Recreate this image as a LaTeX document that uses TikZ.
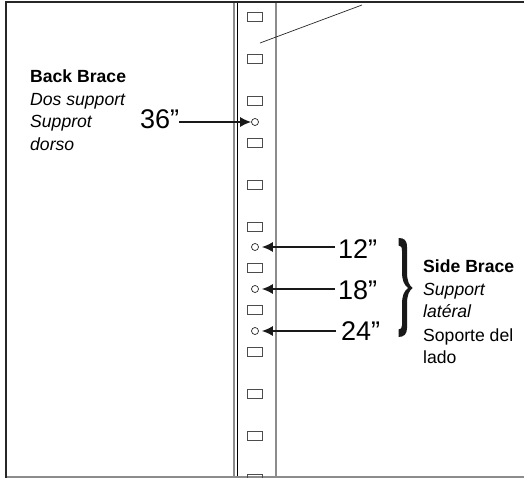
\documentclass[tikz,border=0pt]{standalone}
\usepackage{fontspec}
\setmainfont{Liberation Sans}
\usetikzlibrary{arrows.meta}
\definecolor{railgray}{gray}{0.55}
\tikzset{
  slot/.style={rectangle, draw=black!70, line width=1.1pt, minimum width=14.5pt, minimum height=8.5pt, inner sep=0pt},
  hole/.style={circle, draw=black!85, line width=0.7pt, minimum size=7pt, inner sep=0pt},
  size/.style={anchor=base west, inner sep=0pt, font=\fontsize{27}{27}\selectfont},
  head/.style={anchor=base west, inner sep=0pt, font=\fontsize{17.6}{17.6}\selectfont\bfseries},
  note/.style={anchor=base west, inner sep=0pt, font=\fontsize{17.6}{17.6}\selectfont\itshape},
  plain/.style={anchor=base west, inner sep=0pt, font=\fontsize{17.6}{17.6}\selectfont},
  pointer/.style={draw=black!90, line width=1.4pt, -{Latex[length=11pt,width=10pt]}},
}
\begin{document}
\begin{tikzpicture}[x=1pt,y=-1pt]
\useasboundingbox (0,0) rectangle (524,478);
\begin{scope}
\clip (0,0) rectangle (524,478);
% rails
\draw[railgray, line width=1.4pt] (234,3) -- (234,478);
\draw[black, line width=1pt] (237.5,3) -- (237.5,478);
\draw[railgray, line width=1.4pt] (276,3) -- (276,478);
% frame
\draw[railgray, line width=1.2pt] (6,477) -- (524,477);
\draw[black!85, line width=2.5pt] (6,478) -- (6,2) -- (524,2);
% slots
\node[slot] (slot0) at (255,17){};
\node[slot] (slot1) at (255,59){};
\node[slot] (slot2) at (255,101){};
\node[slot] (slot3) at (255,143){};
\node[slot] (slot4) at (255,185){};
\node[slot] (slot5) at (255,227){};
\node[slot] (slot6) at (255,268){};
\node[slot] (slot7) at (255,310){};
\node[slot] (slot8) at (255,352){};
\node[slot] (slot9) at (255,394){};
\node[slot] (slot10) at (255,436){};
\node[slot] (slot11) at (255,478.5){};
\end{scope}
% holes
\node[hole] (hole36) at (255,122){};
\node[hole] (hole12) at (255,247){};
\node[hole] (hole18) at (255,289){};
\node[hole] (hole24) at (255,331){};
% sizes
\node[size] (size36) at (140,129){36”};
\node[size] (size12) at (338,258){12”};
\node[size] (size18) at (338,299){18”};
\node[size] (size24) at (341,340){24”};
\draw[pointer] (size36.east |- hole36) -- (hole36);
\draw[pointer, shorten >=3pt] ([xshift=-3pt]size12.west |- hole12) -- (hole12);
\draw[pointer, shorten >=3pt] ([xshift=-3pt]size18.west |- hole18) -- (hole18);
\draw[pointer, shorten >=3pt] ([xshift=-5pt]size24.west |- hole24) -- (hole24);
% leader at the top
\coordinate (leadtop) at (362,5);
\coordinate (leadend) at (260,43);
\draw[black!85, line width=0.7pt] (leadtop) -- (leadend);
% back brace text
\node[head] (back0) at (30,83){Back Brace};
\node[note] (back1) at (30,106){Dos support};
\node[note] (back2) at (30,128){Supprot};
\node[note] (back3) at (30,151){dorso};
% side brace
\fill[black!90] (398.5,238) .. controls (404,238) and (407,240) .. (407,247) -- (407,272)
  .. controls (407,281) and (409,285) .. (412.5,288) .. controls (409,291) and (407,295) .. (407,304)
  -- (407,328) .. controls (407,334) and (404,337) .. (398.5,337) -- (398.5,329.5)
  .. controls (401,329.5) and (402,328) .. (402,325) -- (402,304)
  .. controls (402,296) and (404,291) .. (408,288) .. controls (404,285) and (402,280) .. (402,272)
  -- (402,251) .. controls (402,247) and (401,245.5) .. (398.5,245.5) -- cycle;
\node[head] (side0) at (423,272){Side Brace};
\node[note] (side1) at (423,295){Support};
\node[note] (side2) at (423,317){latéral};
\node[plain] (side3) at (423,341){Soporte del};
\node[plain] (side4) at (423,363){lado};
\end{tikzpicture}
\end{document}
